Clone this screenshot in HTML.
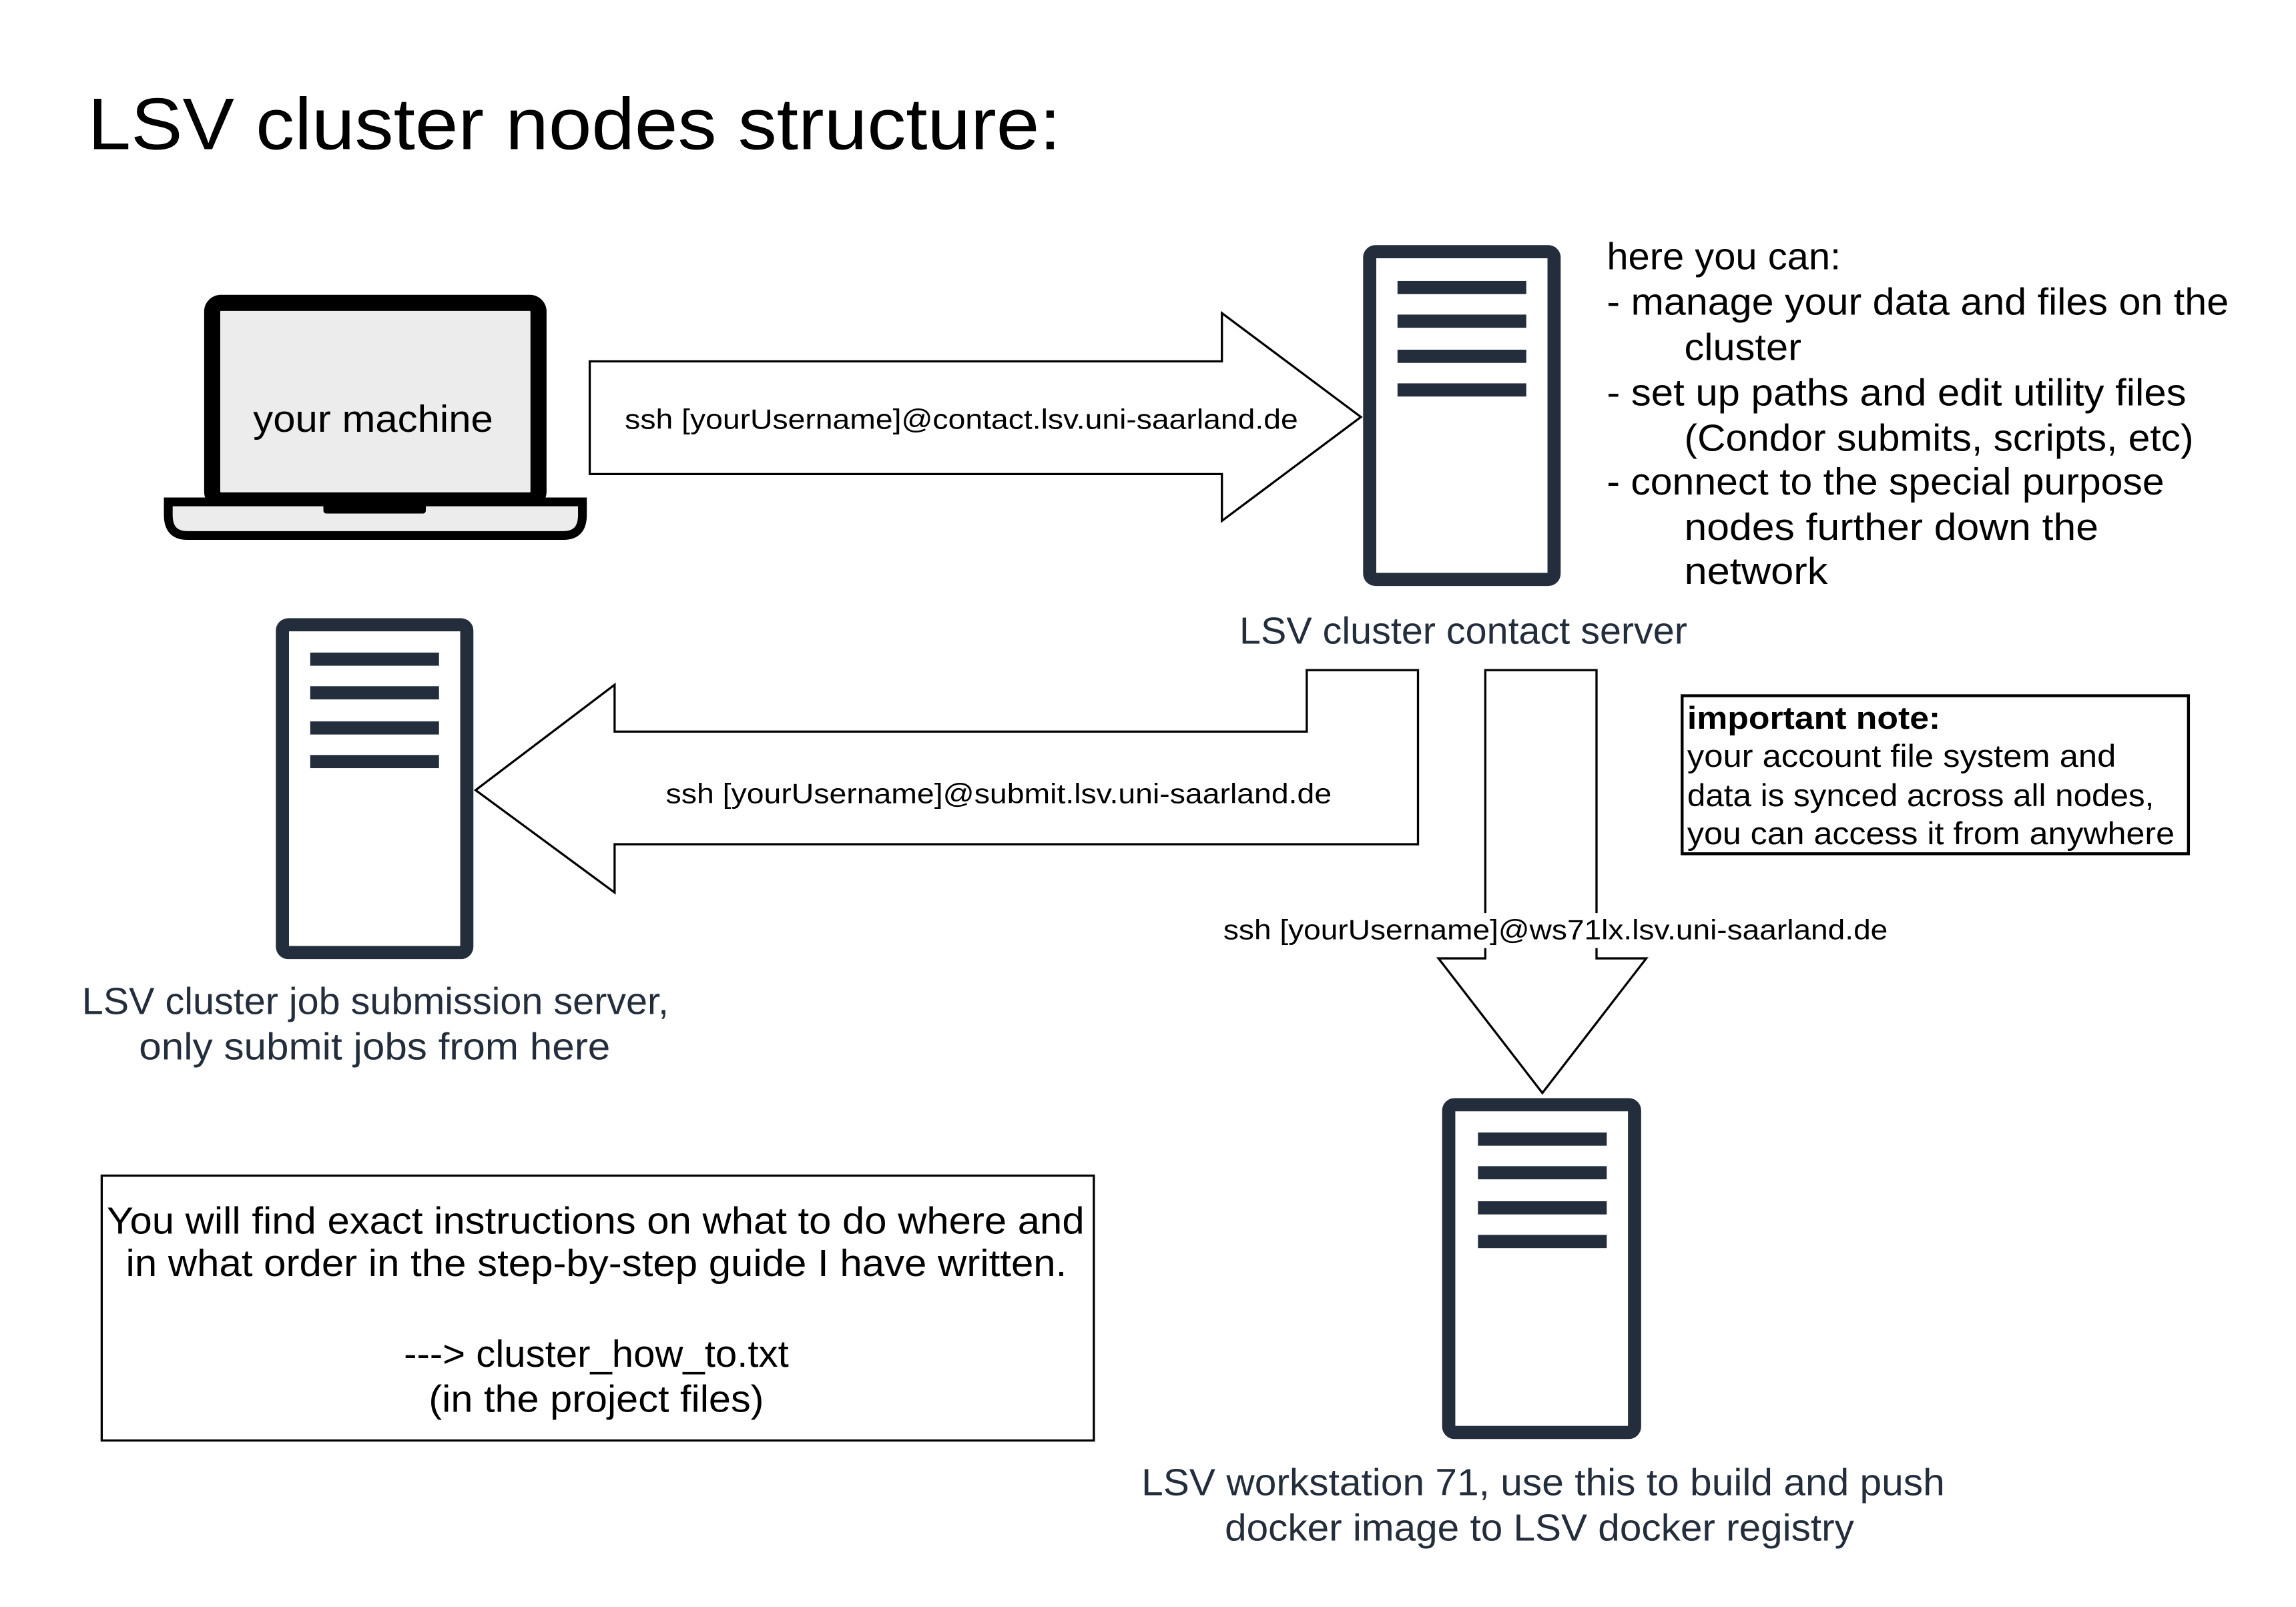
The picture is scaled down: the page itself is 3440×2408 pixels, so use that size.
<!DOCTYPE html>
<html><head><meta charset="utf-8"><style>html,body{margin:0;padding:0;background:#fff}svg{display:block}</style></head>
<body>
<svg width="3440" height="2408" viewBox="0 0 1569 1098.3" preserveAspectRatio="xMinYMin meet" xmlns="http://www.w3.org/2000/svg" font-family="'Liberation Sans', sans-serif">
<rect width="1569" height="1100" fill="#fff"/>
<g>
<text x="60" y="102" font-size="50" textLength="665" lengthAdjust="spacingAndGlyphs">LSV cluster nodes structure:</text>

<!-- laptop -->
<rect x="145" y="207" width="223" height="135" rx="6" fill="#ececec" stroke="#000" stroke-width="11"/>
<path d="M115 343 H398 V352 Q398 366 385 366 H128 Q115 366 115 352 Z" fill="#ececec" stroke="#000" stroke-width="6"/>
<rect x="221" y="340" width="70" height="11" rx="2" fill="#000"/>
<text x="173" y="295" font-size="26" textLength="164" lengthAdjust="spacingAndGlyphs">your machine</text>

<!-- arrow 1 -->
<polygon points="403,247 835,247 835,214 930,285 835,356 835,324 403,324" fill="#fff" stroke="#000" stroke-width="1.5"/>
<text x="427" y="293" font-size="19" textLength="460" lengthAdjust="spacingAndGlyphs">ssh [yourUsername]@contact.lsv.uni-saarland.de</text>

<!-- server 1 -->
<rect x="936" y="172" width="126" height="224" rx="4" fill="#fff" stroke="#232d3b" stroke-width="9"/>
<g fill="#232d3b"><rect x="955" y="192" width="88" height="9"/><rect x="955" y="215" width="88" height="9"/><rect x="955" y="239" width="88" height="9"/><rect x="955" y="262" width="88" height="9"/></g>
<text x="847" y="440" font-size="26" fill="#232d3b" textLength="306" lengthAdjust="spacingAndGlyphs">LSV cluster contact server</text>

<g font-size="26">
<text x="1098" y="184" textLength="160" lengthAdjust="spacingAndGlyphs">here you can:</text>
<text x="1098" y="215" textLength="425" lengthAdjust="spacingAndGlyphs">- manage your data and files on the</text>
<text x="1151" y="246" textLength="80" lengthAdjust="spacingAndGlyphs">cluster</text>
<text x="1098" y="277" textLength="396" lengthAdjust="spacingAndGlyphs">- set up paths and edit utility files</text>
<text x="1151" y="308" textLength="348" lengthAdjust="spacingAndGlyphs">(Condor submits, scripts, etc)</text>
<text x="1098" y="338" textLength="381" lengthAdjust="spacingAndGlyphs">- connect to the special purpose</text>
<text x="1151" y="369" textLength="283" lengthAdjust="spacingAndGlyphs">nodes further down the</text>
<text x="1151" y="399" textLength="98" lengthAdjust="spacingAndGlyphs">network</text>
</g>

<!-- arrow 2 -->
<polygon points="893,458 969,458 969,577 420,577 420,610 325,540 420,468 420,500 893,500" fill="#fff" stroke="#000" stroke-width="1.5"/>
<text x="455" y="549" font-size="19" textLength="455" lengthAdjust="spacingAndGlyphs">ssh [yourUsername]@submit.lsv.uni-saarland.de</text>

<!-- server 2 -->
<rect x="193" y="427" width="126" height="224" rx="4" fill="#fff" stroke="#232d3b" stroke-width="9"/>
<g fill="#232d3b"><rect x="212" y="446" width="88" height="9"/><rect x="212" y="469" width="88" height="9"/><rect x="212" y="493" width="88" height="9"/><rect x="212" y="516" width="88" height="9"/></g>
<text x="56" y="693" font-size="26" fill="#232d3b" textLength="401" lengthAdjust="spacingAndGlyphs">LSV cluster job submission server,</text>
<text x="95" y="724" font-size="26" fill="#232d3b" textLength="322" lengthAdjust="spacingAndGlyphs">only submit jobs from here</text>

<!-- arrow 3 -->
<polygon points="1015,458 1091,458 1091,655 1125,655 1054,747 983,655 1015,655" fill="#fff" stroke="#000" stroke-width="1.5"/>
<rect x="835" y="624" width="457" height="24" fill="#fff"/>
<text x="836" y="642" font-size="19" textLength="454" lengthAdjust="spacingAndGlyphs">ssh [yourUsername]@ws71lx.lsv.uni-saarland.de</text>

<!-- server 3 -->
<rect x="990" y="755" width="127" height="224" rx="4" fill="#fff" stroke="#232d3b" stroke-width="9"/>
<g fill="#232d3b"><rect x="1010" y="774" width="88" height="9"/><rect x="1010" y="797" width="88" height="9"/><rect x="1010" y="821" width="88" height="9"/><rect x="1010" y="844" width="88" height="9"/></g>
<text x="780" y="1022" font-size="26" fill="#232d3b" textLength="549" lengthAdjust="spacingAndGlyphs">LSV workstation 71, use this to build and push</text>
<text x="837" y="1053" font-size="26" fill="#232d3b" textLength="430" lengthAdjust="spacingAndGlyphs">docker image to LSV docker registry</text>

<!-- note -->
<rect x="1149.5" y="475.5" width="346" height="108" fill="#fff" stroke="#000" stroke-width="2"/>
<g font-size="21.5">
<text x="1153" y="498" font-weight="bold" textLength="173" lengthAdjust="spacingAndGlyphs">important note:</text>
<text x="1153" y="524" textLength="293" lengthAdjust="spacingAndGlyphs">your account file system and</text>
<text x="1153" y="551" textLength="319" lengthAdjust="spacingAndGlyphs">data is synced across all nodes,</text>
<text x="1153" y="577" textLength="333" lengthAdjust="spacingAndGlyphs">you can access it from anywhere</text>
</g>

<!-- instructions -->
<rect x="69.5" y="803.5" width="678" height="181" fill="#fff" stroke="#000" stroke-width="1.5"/>
<g font-size="26">
<text x="73" y="843" textLength="668" lengthAdjust="spacingAndGlyphs">You will find exact instructions on what to do where and</text>
<text x="86" y="872" textLength="643" lengthAdjust="spacingAndGlyphs">in what order in the step-by-step guide I have written.</text>
<text x="276" y="934" textLength="263" lengthAdjust="spacingAndGlyphs">---&gt; cluster_how_to.txt</text>
<text x="293" y="965" textLength="229" lengthAdjust="spacingAndGlyphs">(in the project files)</text>
</g>
</g>
</svg>
</body></html>
